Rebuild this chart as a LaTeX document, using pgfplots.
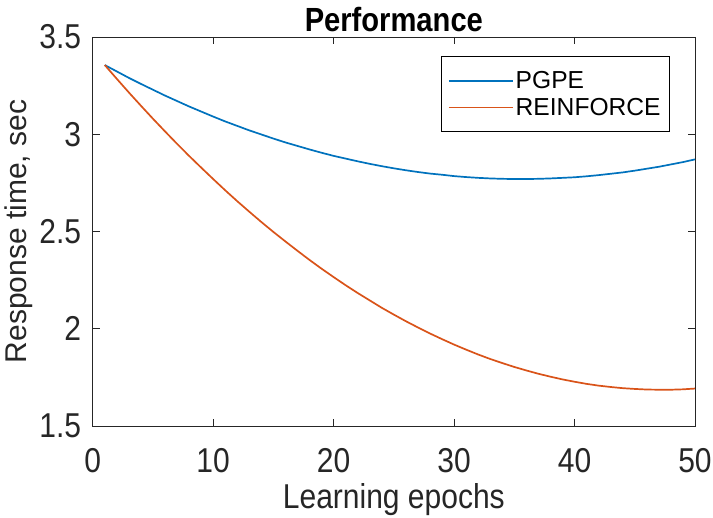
\documentclass[border=0pt]{standalone}
\usepackage{fontspec}
\setmainfont{Liberation Sans}
\newfontfamily\narrowsans[FakeStretch=0.87]{Liberation Sans}
\usepackage{pgfplots}
\pgfplotsset{compat=1.18}

\definecolor{mblue}{rgb}{0,0.447,0.741}
\definecolor{morange}{rgb}{0.85,0.325,0.098}
\definecolor{axgray}{rgb}{0.15,0.15,0.15}

\newcommand{\tickfont}{\narrowsans\fontsize{34.5bp}{40bp}\selectfont}
\newcommand{\ylabfont}{\fontsize{30bp}{36bp}\selectfont}
\newcommand{\legfont}{\fontsize{24.6bp}{29bp}\selectfont}
\newcommand{\titlefont}{\narrowsans\fontsize{33.5bp}{39bp}\selectfont\bfseries}

\pgfplotstableread{
epoch pgpe reinforce
1 3.356 3.356
2 3.323 3.285
3 3.290 3.215
4 3.259 3.147
5 3.229 3.080
6 3.199 3.015
7 3.171 2.951
8 3.143 2.889
9 3.117 2.829
10 3.091 2.770
11 3.066 2.712
12 3.043 2.656
13 3.020 2.602
14 2.999 2.549
15 2.978 2.498
16 2.958 2.449
17 2.940 2.401
18 2.922 2.354
19 2.905 2.309
20 2.889 2.266
21 2.875 2.224
22 2.861 2.184
23 2.848 2.146
24 2.836 2.108
25 2.825 2.073
26 2.815 2.039
27 2.806 2.007
28 2.798 1.976
29 2.792 1.947
30 2.785 1.919
31 2.780 1.893
32 2.776 1.868
33 2.773 1.845
34 2.771 1.824
35 2.770 1.804
36 2.770 1.786
37 2.771 1.769
38 2.773 1.754
39 2.776 1.740
40 2.779 1.728
41 2.784 1.717
42 2.790 1.708
43 2.797 1.701
44 2.804 1.695
45 2.813 1.691
46 2.823 1.688
47 2.833 1.687
48 2.845 1.687
49 2.857 1.689
50 2.871 1.693
}\perf

\begin{document}
\begin{tikzpicture}
\begin{axis}[
  at={(0,0)}, anchor=south west,
  scale only axis,
  width=602.3bp, height=389.1bp,
  xmin=0, xmax=50, ymin=1.5, ymax=3.5,
  xtick={0,10,20,30,40,50},
  ytick={1.5,2,2.5,3,3.5},
  yticklabels={1.5,2,2.5,3,3.5},
  tick align=inside,
  major tick length=7bp,
  axis line style={axgray, line width=0.9bp},
  every tick/.style={axgray, line width=0.9bp},
  /pgf/number format/assume math mode=true,
  tick label style={font=\tickfont, text=axgray},
  xticklabel style={yshift=-18.5bp},
  yticklabel style={xshift=-8bp},
  xlabel={Learning epochs},
  ylabel={Response time, sec},
  label style={text=axgray},
  xlabel style={font=\tickfont, yshift=-4bp},
  ylabel style={font=\ylabfont, yshift=0bp},
  title={Performance},
  title style={font=\titlefont, yshift=-4bp},
  legend cell align=left,
  legend style={
    at={(rel axis cs:0.9585,0.951)}, anchor=north east,
    font=\legfont, draw=black, line width=0.8bp,
    inner xsep=7bp, inner ysep=13bp,
    row sep=4bp,
  },
  legend image code/.code={\draw[#1] (5bp,0bp) -- (69bp,0bp);},
  every axis plot/.append style={line width=1.7bp},
]
\addplot[color=mblue, solid] table[x=epoch, y=pgpe] {\perf};
\addlegendentry{PGPE}
\addplot[color=morange, solid] table[x=epoch, y=reinforce] {\perf};
\addlegendentry{REINFORCE}
\end{axis}
\pgfresetboundingbox
\path[use as bounding box] (-92.7bp,-91bp) rectangle (620.3bp,426.1bp);
\end{tikzpicture}
\end{document}
